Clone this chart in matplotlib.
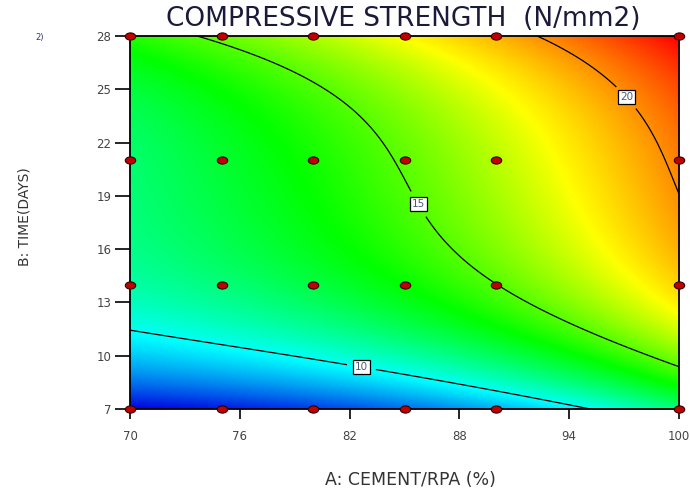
import numpy as np
import matplotlib
matplotlib.use("Agg")
import matplotlib.pyplot as plt
from matplotlib.colors import LinearSegmentedColormap
from matplotlib.path import Path

# design points (A: cement/RPA %, B: time in days)
A_levels = [70, 75, 80, 85, 90, 100]
B_levels = [7, 14, 21, 28]

# fitted response surface in coded units a=(A-85)/15, b=(B-17.5)/10.5
# terms: 1, a, b, ab, a^2, b^2, a^2 b, a b^2, a^3, b^3
coef = [14.6478, 3.7038, 1.8096, 0.6843, 1.0989, -2.0604,
        -0.1789, -0.2047, 0.2363, 3.3391]

contour_levels = [10, 15, 20]
label_pos = [(82.7, 9.7), (85.7, 18.5), (97.3, 24.7)]

x_ticks = [70, 76, 82, 88, 94, 100]
y_ticks = [7, 10, 13, 16, 19, 22, 25, 28]


def surface(A, B):
    a = (A - 85) / 15
    b = (B - 17.5) / 10.5
    t = [np.ones_like(a), a, b, a * b, a ** 2, b ** 2,
         a ** 2 * b, a * b ** 2, a ** 3, b ** 3]
    return sum(c * x for c, x in zip(coef, t))


AA, BB = np.meshgrid(np.linspace(70, 100, 301), np.linspace(7, 28, 211))
Z = surface(AA, BB)

cmap = LinearSegmentedColormap.from_list(
    "de", [(0.0, "#0000e0"), (0.24, "#00ffff"), (0.46, "#00ff00"),
           (0.69, "#ffff00"), (1.0, "#ff0000")])

fig = plt.figure(figsize=(6.9, 4.92), dpi=100)
ax = fig.add_axes([130 / 690, 83 / 492, 549 / 690, 373 / 492])
ax.pcolormesh(AA, BB, Z, cmap=cmap, shading="gouraud", vmin=Z.min(), vmax=Z.max())
cs = ax.contour(AA, BB, Z, levels=contour_levels, colors="black", linewidths=0.9)
lbls = ax.clabel(cs, fmt="%d", fontsize=7.5, inline=True, inline_spacing=8,
                 manual=label_pos)
for t in lbls:
    t.set_rotation(0)
    t.set_color("#4a5a7a")
    t.set_bbox(dict(facecolor="white", edgecolor="black", pad=1.4, linewidth=0.9))

# elliptical markers for the design points
circ = Path.unit_circle()
ell = Path(circ.vertices * [1.45, 1.0], circ.codes)
pa, pb = np.meshgrid(A_levels, B_levels)
ax.plot(pa.ravel(), pb.ravel(), ls="none", marker=ell, ms=7.5, mfc="#c00000",
        mec="#300000", mew=0.8, clip_on=False, zorder=5)

ax.set_xlim(70, 100)
ax.set_ylim(7, 28)
ax.set_xticks(x_ticks)
ax.set_yticks(y_ticks)
ax.tick_params(axis="y", length=10.5, width=1.2, pad=3, labelsize=8.5, labelcolor="#444444")
ax.tick_params(axis="x", length=7, width=1.2, pad=8, labelsize=8.5, labelcolor="#444444")
for s in ax.spines.values():
    s.set_linewidth(1.3)

fig.text(0.584, 0.962, "COMPRESSIVE STRENGTH  (N/mm2)", ha="center", va="center",
         fontsize=19, color="#1a1a3a")
fig.text(0.058, 0.923, "2)", ha="center", va="center", fontsize=6, color="#2a3a6a")
fig.text(0.036, 0.56, "B: TIME(DAYS)", rotation=90, ha="center", va="center",
         fontsize=10, color="#333333")
fig.text(0.595, 0.025, "A: CEMENT/RPA (%)", ha="center", va="center",
         fontsize=12.5, color="#333333")

fig.savefig("out.png", dpi=100)
